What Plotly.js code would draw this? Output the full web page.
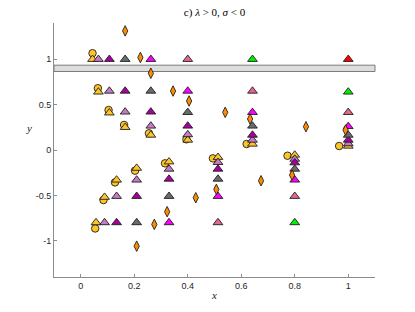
<!DOCTYPE html>
<html>
<head>
<meta charset="utf-8">
<script src="https://cdn.plot.ly/plotly-3.0.1.min.js"></script>
<style>html,body{margin:0;padding:0;background:#fff;}#chart{width:415px;height:312px;}</style>
</head>
<body>
<div id="chart"></div>
<script>
// ---- data ----
const circleX = [0.044, 0.064, 0.104, 0.162, 0.255, 0.395, 0.620, 0.966, 0.054, 0.085, 0.128, 0.203, 0.315, 0.494, 0.773];
const circleY = [1.067, 0.681, 0.440, 0.276, 0.184, 0.118, 0.066, 0.044, -0.865, -0.552, -0.357, -0.228, -0.147, -0.092, -0.063];

const yellowTriX = [0.044, 0.066, 0.107, 0.166, 0.262, 0.400, 0.642, 1.000, 0.057, 0.089, 0.134, 0.209, 0.330, 0.513, 0.800];
const yellowTriY = [1.000, 0.640, 0.410, 0.250, 0.165, 0.110, 0.066, 0.044, -0.800, -0.520, -0.330, -0.200, -0.130, -0.080, -0.055];

const orchidX = [0.066, 0.107, 0.166, 0.262, 0.400, 0.642, 1.000, 0.089, 0.134, 0.209, 0.330, 0.513, 0.800];
const orchidY = [1.000, 0.650, 0.420, 0.265, 0.170, 0.110, 0.070, -0.800, -0.510, -0.330, -0.210, -0.136, -0.100];

const purpleX = [0.107, 0.166, 0.262, 0.400, 0.642, 1.000, 0.134, 0.209, 0.330, 0.513, 0.800];
const purpleY = [1.000, 0.650, 0.420, 0.265, 0.165, 0.110, -0.800, -0.510, -0.320, -0.210, -0.140];

const grayX = [0.166, 0.262, 0.400, 0.642, 1.000, 0.209, 0.330, 0.513, 0.800];
const grayY = [1.000, 0.650, 0.415, 0.265, 0.165, -0.800, -0.510, -0.320, -0.210];

const magentaX = [0.262, 0.400, 0.642, 1.000, 0.330, 0.513, 0.800];
const magentaY = [1.000, 0.650, 0.415, 0.260, -0.800, -0.510, -0.330];

const pinkX = [0.400, 0.642, 1.000, 0.513, 0.800];
const pinkY = [1.000, 0.650, 0.415, -0.800, -0.510];

const greenX = [0.642, 1.000, 0.800];
const greenY = [1.000, 0.640, -0.800];

const redX = [1.000];
const redY = [1.000];

const diamondX = [0.166, 0.223, 0.262, 0.345, 0.405, 0.540, 0.633, 0.842, 0.990, 0.209, 0.275, 0.323, 0.430, 0.507, 0.674, 0.790];
const diamondY = [1.313, 1.020, 0.846, 0.650, 0.540, 0.415, 0.342, 0.257, 0.220, -1.060, -0.820, -0.680, -0.526, -0.434, -0.339, -0.276];

const bandY = [0.865, 0.935];

const xTickVals = [0, 0.2, 0.4, 0.6, 0.8, 1];
const xTickText = ['0', '0.2', '0.4', '0.6', '0.8', '1'];
const yTickVals = [-1, -0.5, 0, 0.5, 1];
const yTickText = ['-1', '-0.5', '0', '0.5', '1'];

// ---- styling ----
const edge = {color: '#1e1e1e', width: 0.9};
function tri(x, y, color, name) {
  return {x: x, y: y, type: 'scatter', mode: 'markers', name: name,
    marker: {symbol: 'triangle-up', size: 8.5, color: color, line: edge}};
}

const traces = [
  {x: circleX, y: circleY, type: 'scatter', mode: 'markers', name: 'circles',
   marker: {symbol: 'circle', size: 7.5, color: '#FFC526', line: edge}},
  tri(yellowTriX, yellowTriY, '#FFC526', 'yellow'),
  tri(orchidX, orchidY, '#C47BC4', 'orchid'),
  tri(purpleX, purpleY, '#A8009F', 'purple'),
  tri(grayX, grayY, '#6B6B6B', 'gray'),
  tri(magentaX, magentaY, '#FF00FF', 'magenta'),
  tri(pinkX, pinkY, '#E8668A', 'pink'),
  tri(greenX, greenY, '#00F000', 'green'),
  tri(redX, redY, '#FF0000', 'red'),
  {x: diamondX, y: diamondY, type: 'scatter', mode: 'markers', name: 'diamonds',
   marker: {symbol: 'diamond-tall', size: 7.5, color: '#FF8C00', line: edge}}
];

const tickFont = {family: 'Liberation Sans, Arial, sans-serif', size: 9, color: '#262626'};
const serif = 'Liberation Serif, DejaVu Serif, serif';

const layout = {
  width: 415, height: 312,
  margin: {l: 54, r: 40, t: 23, b: 35, pad: 0},
  paper_bgcolor: '#ffffff', plot_bgcolor: '#ffffff',
  showlegend: false,
  title: {text: 'c) <i>λ</i> &gt; 0, <i>σ</i> &lt; 0', font: {family: serif, size: 11, color: '#000', weight: 'normal'},
          x: 0.517, xanchor: 'center', y: 0.96, yanchor: 'middle'},
  xaxis: {range: [-0.1, 1.1], tickvals: xTickVals, ticktext: xTickText,
          showline: true, linecolor: '#8c8c8c', linewidth: 1, mirror: false,
          ticks: 'inside', ticklen: 3, tickcolor: '#8c8c8c',
          showgrid: false, zeroline: false, tickfont: tickFont,
          title: {text: '<i>x</i>', font: {family: serif, size: 11, color: '#222'}, standoff: 1}},
  yaxis: {range: [-1.4, 1.4], tickvals: yTickVals, ticktext: yTickText,
          showline: true, linecolor: '#8c8c8c', linewidth: 1, mirror: false,
          ticks: 'inside', ticklen: 3, tickcolor: '#8c8c8c',
          showgrid: false, zeroline: false, tickfont: tickFont},
  shapes: [{type: 'rect', xref: 'paper', yref: 'y', x0: 0, x1: 1, y0: bandY[0], y1: bandY[1],
            fillcolor: '#dddddd', line: {color: '#7a7a7a', width: 1}, layer: 'below'}],
  annotations: [{text: '<i>y</i>', xref: 'paper', yref: 'paper', x: -0.095, y: 0.587,
                 showarrow: false, font: {family: serif, size: 11, color: '#222'}}]
};

Plotly.newPlot('chart', traces, layout, {staticPlot: true, displayModeBar: false});
</script>
</body>
</html>
